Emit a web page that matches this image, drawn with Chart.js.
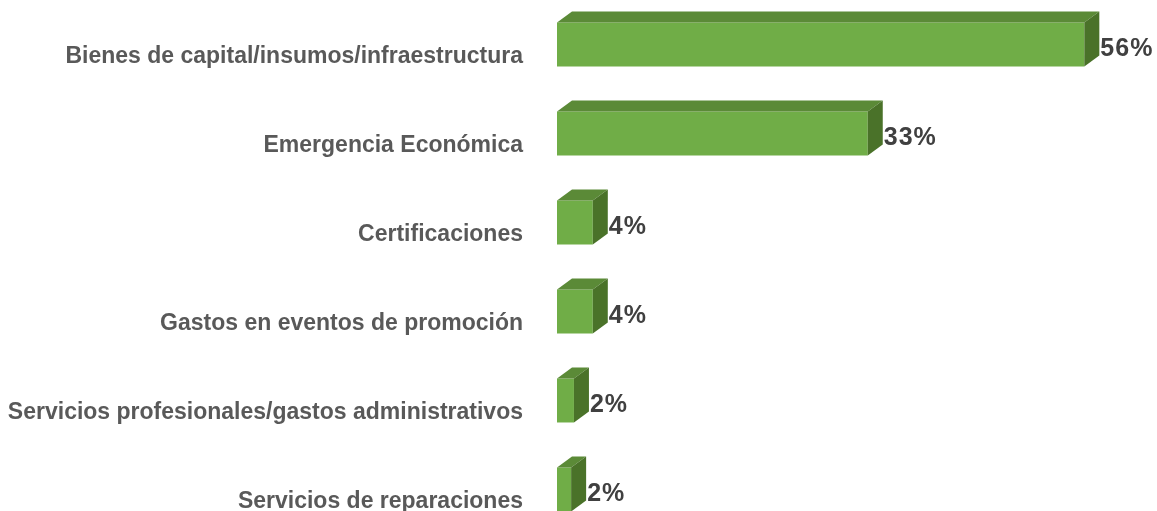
<!DOCTYPE html>
<html>
<head>
<meta charset="utf-8">
<style>
  html, body { margin: 0; padding: 0; background: #fff; overflow: hidden; }
  canvas { display: block; }
</style>
<script src="https://cdn.jsdelivr.net/npm/chart.js@4/dist/chart.umd.min.js"></script>
</head>
<body>
<canvas id="rubrosChart" width="1157" height="534"></canvas>
<script>
// categories and values (percent)
const categories = [
    'Bienes de capital/insumos/infraestructura',
    'Emergencia Económica',
    'Certificaciones',
    'Gastos en eventos de promoción',
    'Servicios profesionales/gastos administrativos',
    'Servicios de reparaciones'
];
const values = [56, 33, 3.8, 3.8, 1.8, 1.5];
const valueLabels = ['56%', '33%', '4%', '4%', '2%', '2%'];

const DEPTH_X = 15;
const DEPTH_Y = 11;

// draws top and side faces, value labels and the category labels
const bars3d = {
    id: 'bars3d',
    afterDatasetsDraw(chart) {
        const ctx = chart.ctx;
        const meta = chart.getDatasetMeta(0);
        ctx.save();
        meta.data.forEach((bar, i) => {
            const top = bar.y - bar.height / 2;
            const bottom = bar.y + bar.height / 2;
            const left = bar.base;
            const right = bar.x;

            ctx.fillStyle = '#5b8a37';
            ctx.beginPath();
            ctx.moveTo(left, top);
            ctx.lineTo(left + DEPTH_X, top - DEPTH_Y);
            ctx.lineTo(right + DEPTH_X, top - DEPTH_Y);
            ctx.lineTo(right, top);
            ctx.closePath();
            ctx.fill();

            ctx.fillStyle = '#4a7229';
            ctx.beginPath();
            ctx.moveTo(right, top);
            ctx.lineTo(right + DEPTH_X, top - DEPTH_Y);
            ctx.lineTo(right + DEPTH_X, bottom - DEPTH_Y);
            ctx.lineTo(right, bottom);
            ctx.closePath();
            ctx.fill();

            ctx.fillStyle = '#404040';
            ctx.font = 'bold 25px "Liberation Sans", Arial, sans-serif';
            ctx.letterSpacing = '1px';
            ctx.textAlign = 'left';
            ctx.textBaseline = 'alphabetic';
            ctx.fillText(valueLabels[i], right + DEPTH_X + 1, bar.y + 11);
        });

        const yScale = chart.scales.y;
        ctx.fillStyle = '#595959';
        ctx.font = 'bold 23px "Liberation Sans", Arial, sans-serif';
        ctx.letterSpacing = '0px';
        ctx.textAlign = 'right';
        ctx.textBaseline = 'alphabetic';
        categories.forEach((c, i) => {
            ctx.fillText(c, 523, yScale.getPixelForValue(i) + 18);
        });
        ctx.restore();
    }
};

const ctxRubros = document.getElementById('rubrosChart').getContext('2d');
const rubrosChart = new Chart(ctxRubros, {
    type: 'bar',
    data: {
        labels: categories,
        datasets: [{
            data: values,
            backgroundColor: '#70ad47',
            borderWidth: 0,
            barPercentage: 0.494,
            categoryPercentage: 1
        }]
    },
    options: {
        indexAxis: 'y',
        responsive: false,
        animation: false,
        layout: { padding: { top: 0, right: 35, bottom: 0, left: 0 } },
        plugins: {
            legend: { display: false },
            tooltip: { enabled: false }
        },
        scales: {
            x: {
                display: false,
                min: 0,
                max: 60
            },
            y: {
                grid: { display: false },
                border: { display: false },
                ticks: { display: false },
                afterFit(scale) { scale.width = 557; }
            }
        }
    },
    plugins: [bars3d]
});
</script>
</body>
</html>
